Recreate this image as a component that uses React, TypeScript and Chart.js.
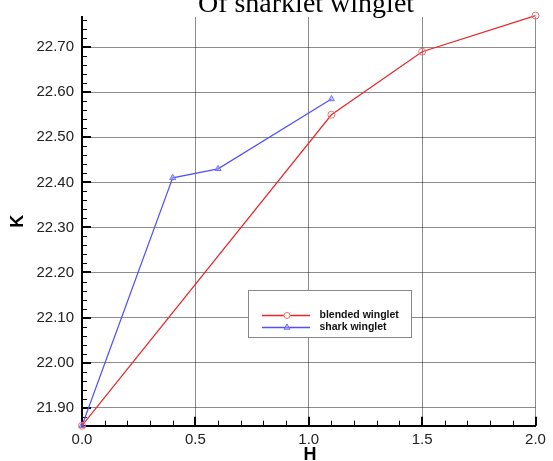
import React, { useEffect, useRef } from 'react';
import { Chart, registerables } from 'chart.js';

Chart.register(...registerables);

// ---- data ----
const blendedH = [0, 1.1, 1.5, 2.0];
const blendedK = [21.86, 22.55, 22.69, 22.77];
const sharkH = [0, 0.4, 0.6, 1.1];
const sharkK = [21.86, 22.41, 22.43, 22.585];
const seriesLabels = ['blended winglet', 'shark winglet'];
const xTicks = [0, 0.5, 1.0, 1.5, 2.0];
const yTicks = [21.9, 22.0, 22.1, 22.2, 22.3, 22.4, 22.5, 22.6, 22.7];
const titleText = 'Of sharklet winglet';
const xTitle = 'H';
const yTitle = 'K';

const X_MIN = 0;
const X_MAX = 2.0;
const Y_MIN = 21.86;
const Y_MAX = 22.767;

const SANS = '"Liberation Sans", Arial, sans-serif';
const SERIF = '"Liberation Serif", "Times New Roman", serif';

const LINE_COLORS = ['rgb(232, 38, 42)', 'rgb(80, 80, 255)'];
const MARKER_COLORS = ['rgb(240, 110, 110)', 'rgb(110, 110, 255)'];
const MARKER_STYLES = ['circle', 'triangle'];

const decorPlugin = {
  id: 'decor',
  beforeDatasetsDraw(chart: any) {
    const { ctx, chartArea: a, scales } = chart;
    const x = scales.x;
    const y = scales.y;
    ctx.save();
    ctx.strokeStyle = '#000';
    // x-axis inward ticks, every 0.1
    for (let i = 0; i <= 20; i++) {
      const v = i / 10;
      const major = i % 5 === 0;
      const px = Math.round(x.getPixelForValue(v)) + (major ? 0 : 0.5);
      ctx.lineWidth = major ? 2 : 1;
      ctx.beginPath();
      ctx.moveTo(px, a.bottom);
      ctx.lineTo(px, a.bottom - (major ? 9 : 5));
      ctx.stroke();
    }
    // y-axis inward ticks, every 0.02
    for (let k = 1094; k <= 1138; k++) {
      const v = k / 50;
      const major = k % 5 === 0;
      const py = Math.round(y.getPixelForValue(v)) + (major ? 0 : 0.5);
      ctx.lineWidth = major ? 2 : 1;
      ctx.beginPath();
      ctx.moveTo(a.left, py);
      ctx.lineTo(a.left + (major ? 9 : 5), py);
      ctx.stroke();
    }
    ctx.restore();
  },
  afterDraw(chart: any) {
    const { ctx, chartArea: a } = chart;
    ctx.save();
    // title (cropped at top)
    ctx.fillStyle = '#000';
    ctx.font = '28px ' + SERIF;
    ctx.textAlign = 'center';
    ctx.textBaseline = 'alphabetic';
    ctx.fillText(titleText, 306, 11.5);

    // axis titles
    ctx.font = 'bold 18px ' + SANS;
    ctx.textBaseline = 'middle';
    ctx.fillText(xTitle, 310, 455);
    ctx.save();
    ctx.translate(18, (a.top + a.bottom) / 2);
    ctx.rotate(-Math.PI / 2);
    ctx.fillText(yTitle, 0, 0);
    ctx.restore();

    // legend box
    const bx = 248.5, by = 290.5, bw = 163, bh = 47;
    ctx.fillStyle = '#fff';
    ctx.fillRect(bx, by, bw, bh);
    ctx.strokeStyle = '#888';
    ctx.lineWidth = 1;
    ctx.strokeRect(bx, by, bw, bh);
    const rows = [315.5, 327.5];
    seriesLabels.forEach((label, i) => {
      const ry = rows[i];
      ctx.strokeStyle = LINE_COLORS[i];
      ctx.lineWidth = 1.3;
      ctx.beginPath();
      ctx.moveTo(262, ry);
      ctx.lineTo(310, ry);
      ctx.stroke();
      ctx.lineWidth = 1;
      ctx.strokeStyle = MARKER_COLORS[i];
      ctx.beginPath();
      if (MARKER_STYLES[i] === 'triangle') {
        const r = 3.5;
        ctx.moveTo(287, ry - r);
        ctx.lineTo(287 + r * 0.87, ry + r * 0.5);
        ctx.lineTo(287 - r * 0.87, ry + r * 0.5);
        ctx.closePath();
        ctx.fillStyle = 'rgba(160,160,255,0.6)';
      } else {
        ctx.arc(287, ry, 3, 0, Math.PI * 2);
        ctx.fillStyle = '#fff';
      }
      ctx.fill();
      ctx.stroke();
      ctx.fillStyle = '#111';
      ctx.font = 'bold 10.5px ' + SANS;
      ctx.textAlign = 'left';
      ctx.textBaseline = 'middle';
      ctx.fillText(label, 319.5, ry);
    });
    ctx.restore();
  },
};

export default function App() {
  const ref = useRef<HTMLCanvasElement | null>(null);

  useEffect(() => {
    document.body.style.margin = '0';
    const canvas = ref.current;
    if (!canvas) return;
    const chart = new Chart(canvas, {
      type: 'line',
      data: {
        datasets: [
          {
            label: seriesLabels[0],
            data: blendedH.map((h, i) => ({ x: h, y: blendedK[i] })),
            borderColor: LINE_COLORS[0],
            borderWidth: 1.2,
            pointStyle: MARKER_STYLES[0],
            pointRadius: 3.5,
            pointBorderWidth: 1,
            pointBorderColor: MARKER_COLORS[0],
            pointBackgroundColor: 'rgba(255,255,255,0)',
            fill: false,
            tension: 0,
            clip: false,
          } as any,
          {
            label: seriesLabels[1],
            data: sharkH.map((h, i) => ({ x: h, y: sharkK[i] })),
            borderColor: LINE_COLORS[1],
            borderWidth: 1.2,
            pointStyle: MARKER_STYLES[1],
            pointRadius: 3.5,
            pointBorderWidth: 1,
            pointBorderColor: MARKER_COLORS[1],
            pointBackgroundColor: 'rgba(160,160,255,0.5)',
            fill: false,
            tension: 0,
            clip: false,
          } as any,
        ],
      },
      options: {
        responsive: false,
        animation: false,
        devicePixelRatio: 1,
        layout: { padding: { top: 13.3, right: 17.5, left: 0, bottom: 0 } },
        plugins: {
          legend: { display: false },
          title: { display: false },
          tooltip: { enabled: false },
        },
        scales: {
          x: {
            type: 'linear',
            min: X_MIN,
            max: X_MAX,
            afterBuildTicks: (s: any) => {
              s.ticks = xTicks.map((v) => ({ value: v }));
            },
            afterFit: (s: any) => {
              s.height = 35.3;
            },
            grid: { color: 'rgba(0,0,0,0.45)', lineWidth: 1, drawTicks: false },
            border: { display: true, color: '#000', width: 2 },
            ticks: {
              padding: 5,
              color: '#222',
              font: { family: SANS, size: 15 },
              callback: (v: any) => Number(v).toFixed(1),
              maxRotation: 0,
              autoSkip: false,
            },
          },
          y: {
            type: 'linear',
            min: Y_MIN,
            max: Y_MAX,
            afterBuildTicks: (s: any) => {
              s.ticks = yTicks.map((v) => ({ value: v }));
            },
            afterFit: (s: any) => {
              s.width = 82;
            },
            grid: { color: 'rgba(0,0,0,0.45)', lineWidth: 1, drawTicks: false },
            border: { display: true, color: '#000', width: 2 },
            ticks: {
              padding: 8,
              color: '#222',
              font: { family: SANS, size: 15 },
              callback: (v: any) => Number(v).toFixed(2),
              autoSkip: false,
            },
          },
        },
      } as any,
      plugins: [decorPlugin],
    });
    return () => chart.destroy();
  }, []);

  return (
    <div style={{ width: 553, height: 461 }}>
      <canvas ref={ref} width={553} height={461} style={{ display: 'block', width: 553, height: 461 }} />
    </div>
  );
}
